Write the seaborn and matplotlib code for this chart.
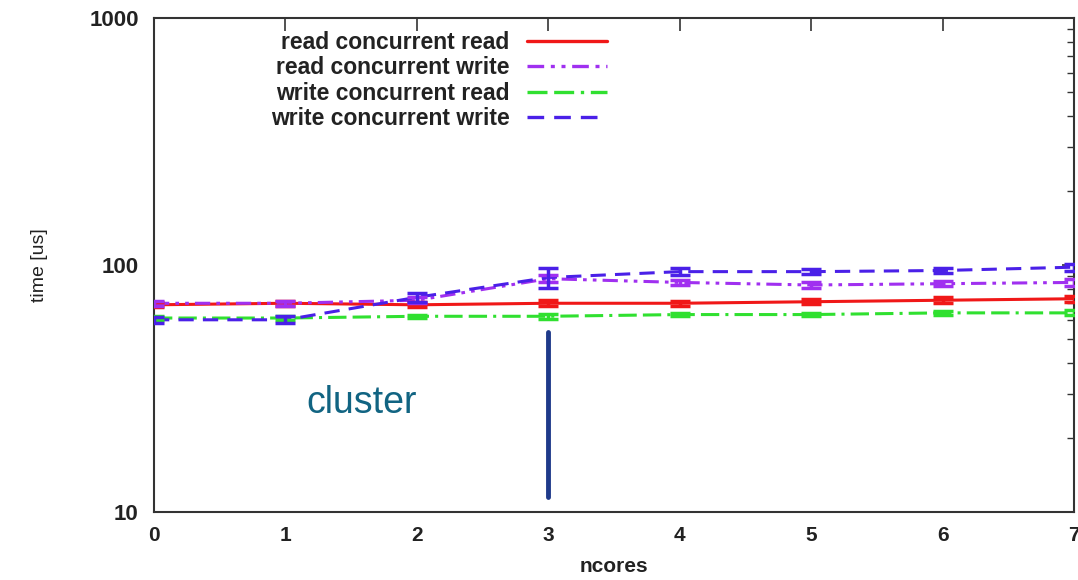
import numpy as np
import pandas as pd
import matplotlib
matplotlib.use("Agg")
import matplotlib.pyplot as plt
import seaborn as sns
from matplotlib.ticker import LogLocator, NullFormatter, FixedLocator

sns.set_theme(style="white")
plt.rcParams['font.family'] = ['Liberation Sans', 'DejaVu Sans']

ncores = [0, 1, 2, 3, 4, 5, 6, 7]
series_names = ["read concurrent read", "read concurrent write",
                "write concurrent read", "write concurrent write"]
read_conc_read = [69, 70, 69, 70, 70, 71, 72, 73]
read_conc_write = [70, 70, 72, 88, 85, 83, 84, 85]
write_conc_read = [61, 61, 62, 62, 63, 63, 64, 64]
write_conc_write = [60, 60, 74, 89, 94, 94, 95, 98]
err_rcr = [1.5, 1.5, 1.5, 2, 1.5, 1.5, 2, 2]
err_rcw = [1.5, 1.5, 2, 3, 2, 2, 2, 3]
err_wcr = [1, 1, 1, 1.5, 1, 1, 1, 1.5]
err_wcw = [1.5, 2, 3, 8, 3, 2, 2, 3]

colors = ["#f01818", "#a030f0", "#30e030", "#4a20e8"]
dashes = ["", (5, 2, 1.2, 2, 1.2, 2), (6, 2, 6, 2, 1, 2), (5, 3)]

values = [read_conc_read, read_conc_write, write_conc_read, write_conc_write]
errs = [err_rcr, err_rcw, err_wcr, err_wcw]

df = pd.DataFrame({
    "ncores": np.tile(ncores, 4),
    "time": np.concatenate(values),
    "series": np.repeat(series_names, len(ncores)),
})

fig = plt.figure(figsize=(10.78, 5.8), dpi=100)
ax = fig.add_axes([154 / 1078, 1 - 512 / 580, 920 / 1078, 494 / 580])

sns.lineplot(data=df, x="ncores", y="time", hue="series", style="series",
             hue_order=series_names, style_order=series_names,
             palette=dict(zip(series_names, colors)),
             dashes=dict(zip(series_names, dashes)),
             linewidth=2.2, ax=ax, legend=True)

for v, e, c in zip(values, errs, colors):
    ax.errorbar(ncores, v, yerr=e, fmt="none", ecolor=c, elinewidth=2.5,
                capsize=7, capthick=2.5, zorder=3)

ax.set_yscale("log")
ax.set_ylim(10, 1000)
ax.set_xlim(0, 7)
ax.set_xticks(ncores)
ax.set_xticklabels([str(n) for n in ncores], fontsize=15, fontweight="bold",
                   color="#222222")
ax.yaxis.set_major_locator(FixedLocator([10, 100, 1000]))
ax.set_yticklabels(["10", "100", "1000"], fontsize=16, fontweight="bold",
                   color="#222222")
ax.yaxis.set_minor_locator(LogLocator(base=10, subs=np.arange(2, 10)))
ax.yaxis.set_minor_formatter(NullFormatter())
ax.tick_params(axis="both", which="major", direction="in", length=9, width=1.2,
               top=True, right=True, colors="#333333", pad=10)
ax.tick_params(axis="y", which="minor", direction="in", length=5, width=1.0,
               right=True, colors="#333333")
ax.tick_params(axis="x", labelcolor="#222222")
ax.tick_params(axis="y", labelcolor="#222222", pad=11)
for s in ax.spines.values():
    s.set_color("#333333")
    s.set_linewidth(1.5)

ax.set_xlabel("ncores", fontsize=15, fontweight="bold", color="#222222",
              labelpad=9)
ax.set_ylabel("time [us]", fontsize=14, color="#222222", labelpad=30)

leg = ax.legend(loc="upper right",
                bbox_to_anchor=((607 - 154) / 920, (512 - 31) / 494),
                frameon=False, markerfirst=False, borderpad=0,
                borderaxespad=0,
                prop={"size": 16.5, "weight": "bold"}, handlelength=3.5,
                labelspacing=0.1, handletextpad=0.75)
for t in leg.get_texts():
    t.set_color("#222222")
for h in leg.get_lines():
    h.set_linewidth(2.4)

# annotation
ax.plot([3, 3], [11.5, 53.5], color="#1f3a8a", linewidth=3.5, zorder=4)
ax.text(1.16, 27.6, "cluster", fontsize=27, color="#116482", ha="left",
        va="center")

fig.savefig("out.png", dpi=100)
